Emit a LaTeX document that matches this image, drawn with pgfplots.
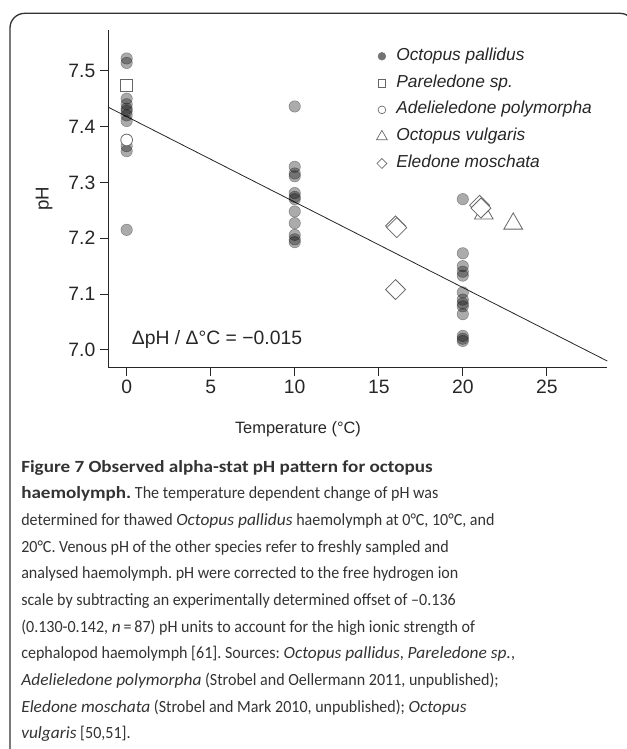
\documentclass[border=0pt]{standalone}
\usepackage{pgfplots}
\pgfplotsset{compat=1.18}
\usepackage{fontspec}
\setmainfont{Liberation Sans}
\newfontfamily\capfont{Carlito}[FakeStretch=0.94, ItalicFeatures={FakeStretch=1.02}, BoldFeatures={FakeStretch=1.12}]
\definecolor{mk}{gray}{0.40}
\begin{document}
\frenchspacing
\begin{tikzpicture}
\useasboundingbox (0,0) rectangle (470.25pt,-561.75pt);
\begin{scope}
\clip (0,0) rectangle (470.25pt,-561.75pt);
\draw[black!80, line width=1pt, rounded corners=11pt] (7.5pt,-620pt) -- (7.5pt,-10pt) -- (476pt,-10pt) -- (476pt,-620pt);
\end{scope}
\begin{axis}[
  at={(81pt,-275.8pt)}, anchor=south west,
  scale only axis, width=374.5pt, height=253.3pt,
  xmin=-1.11, xmax=28.6, ymin=6.968, ymax=7.573,
  axis x line*=bottom, axis y line*=left,
  axis line style={black!85, line width=0.75pt, -},
  tick style={black!85, line width=0.75pt},
  tick align=outside, major tick length=6pt,
  xtick={0,5,10,15,20,25}, ytick={7.0,7.1,7.2,7.3,7.4,7.5},
  yticklabel style={/pgf/number format/fixed, /pgf/number format/fixed zerofill, /pgf/number format/precision=1},
  /pgf/number format/assume math mode=true,
  ticklabel style={font=\fontsize{14.5pt}{17pt}\selectfont, text=black!85},
  xlabel={Temperature (°C)}, ylabel={pH},
  xlabel style={font=\fontsize{12.3pt}{15pt}\selectfont, text=black!85, at={(axis description cs:0.3805,-0.1815)}, anchor=center},
  ylabel style={font=\fontsize{14pt}{15pt}\selectfont, text=black!85, at={(axis description cs:-0.128,0.5)}, anchor=center},
  clip=false,
  legend style={at={(0.5347,0.9467)}, anchor=north west, draw=none, fill=none, inner sep=0pt,
    font=\itshape\fontsize{13pt}{15pt}\selectfont, text=black!85,
    nodes={inner sep=0pt, text height=9pt, text depth=3pt}, row sep=8.1pt, column sep=5.8pt},
  legend cell align=left,
]
% Octopus pallidus
\addplot[only marks, mark=*, mark size=4.3pt, mark options={draw=none, fill=black, opacity=0.33},
  legend image code/.code={\path[draw=none,fill=none] (-5pt,-5pt) rectangle (5pt,5pt); \fill[black!55] (0pt,0pt) circle (2.9pt);}]
coordinates {
(0,7.522) (0,7.514) (0,7.450) (0,7.440) (0,7.432) (0,7.428) (0,7.420) (0,7.410) (0,7.365) (0,7.356) (0,7.215)
(10,7.436) (10,7.328) (10,7.316) (10,7.311) (10,7.281) (10,7.274) (10,7.270) (10,7.248) (10,7.227) (10,7.206) (10,7.198) (10,7.193)
(20,7.270) (20,7.173) (20,7.150) (20,7.140) (20,7.133) (20,7.103) (20,7.090) (20,7.083) (20,7.078) (20,7.064) (20,7.025) (20,7.020) (20,7.016)
};
\addlegendentry{Octopus pallidus}
% regression line
\addplot[black!85, line width=0.6pt, forget plot] coordinates {(-1.11,7.435) (28.6,6.980)};
% Pareledone sp.
\addplot[only marks, mark=square*, mark size=4.4pt, mark options={draw=mk, fill=white, line width=0.6pt},
  legend image code/.code={\path[draw=none,fill=none] (-5pt,-5pt) rectangle (5pt,5pt); \draw[mk, fill=none, line width=0.5pt] (-2.9pt,-2.9pt) rectangle (2.9pt,2.9pt);}]
coordinates {(0,7.474)};
\addlegendentry{Pareledone sp.}
% Adelieledone polymorpha
\addplot[only marks, mark=*, mark size=4.4pt, mark options={draw=mk, fill=white, line width=0.6pt},
  legend image code/.code={\path[draw=none,fill=none] (-5pt,-5pt) rectangle (5pt,5pt); \draw[mk, fill=none, line width=0.5pt] (0pt,0pt) circle (2.9pt);}]
coordinates {(0,7.376)};
\addlegendentry{Adelieledone polymorpha}
% Octopus vulgaris
\addplot[only marks, mark=triangle, mark size=8.1pt, mark options={draw=mk, line width=0.6pt},
  legend image code/.code={\path[draw=none,fill=none] (-5pt,-5pt) rectangle (5pt,5pt); \draw[mk, fill=none, line width=0.5pt] (90:4.7pt) -- (210:4.7pt) -- (330:4.7pt) -- cycle;}]
coordinates {(21.25,7.244) (23.0,7.226)};
\addlegendentry{Octopus vulgaris}
% Eledone moschata
\addplot[only marks, mark=square*, mark size=5.3pt, mark options={draw=mk, fill=white, line width=0.6pt, rotate=45},
  legend image code/.code={\path[draw=none,fill=none] (-5pt,-5pt) rectangle (5pt,5pt); \draw[mk, fill=none, line width=0.5pt] (0pt,3.7pt) -- (3.7pt,0pt) -- (0pt,-3.7pt) -- (-3.7pt,0pt) -- cycle;}]
coordinates {(16,7.222) (16.07,7.219) (16,7.108) (21.0,7.259) (21.08,7.254)};
\addlegendentry{Eledone moschata}
\node[anchor=west, font=\fontsize{14.5pt}{17pt}\selectfont, text=black!85, inner sep=0pt] at (axis cs:0.3,7.018) {ΔpH / Δ°C = −0.015};
\end{axis}
\node[anchor=north west, inner sep=0pt, align=left, font=\capfont\fontsize{12.8pt}{20pt}\selectfont, text=black!80] at (15.75pt,-345pt) {%
\textbf{Figure 7 Observed alpha-stat pH pattern for octopus}\\
\textbf{haemolymph.} The temperature dependent change of pH was\\
determined for thawed \textit{Octopus pallidus} haemolymph at 0°C, 10°C, and\\
20°C. Venous pH of the other species refer to freshly sampled and\\
analysed haemolymph. pH were corrected to the free hydrogen ion\\
scale by subtracting an experimentally determined offset of –0.136\\
(0.130-0.142, \textit{n}\,=\,87) pH units to account for the high ionic strength of\\
cephalopod haemolymph [61]. Sources: \textit{Octopus pallidus}, \textit{Pareledone sp.},\\
\textit{Adelieledone polymorpha} (Strobel and Oellermann 2011, unpublished);\\
\textit{Eledone moschata} (Strobel and Mark 2010, unpublished); \textit{Octopus}\\
\textit{vulgaris} [50,51].};
\end{tikzpicture}
\end{document}
